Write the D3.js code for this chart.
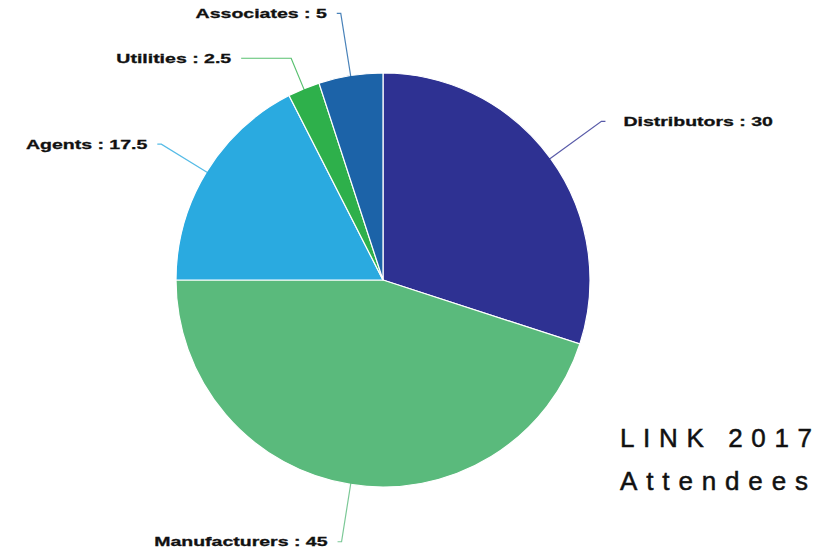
<!DOCTYPE html>
<html><head><meta charset="utf-8">
<script src="https://cdn.jsdelivr.net/npm/d3@7"></script>
<style>body{margin:0;background:#fff}svg{display:block}</style>
</head><body>
<svg id="c" width="814" height="550"></svg>
<script>
const categories = ["Distributors", "Manufacturers", "Agents", "Utilities", "Associates"];
const values = [30, 45, 17.5, 2.5, 5];
const colors = ["#2e3192", "#5aba7c", "#2aaae0", "#2eb04b", "#1c63a8"];
const titleLines = ["LINK 2017", "Attendees"];
// leader layout: elbow radius and horizontal tail per slice
const elbowR = [270, 265, 260, 240, 270];
const tails = [4, -4, -4, -50, -4];

const svg = d3.select("#c");
const cx = 383, cy = 280, r = 207;
const g = svg.append("g").attr("transform", `translate(${cx},${cy})`);
const data = categories.map((c, i) => ({cat: c, val: values[i], col: colors[i], i}));
const pie = d3.pie().value(d => d.val).sort(null);
const arcs = pie(data);
const arc = d3.arc().innerRadius(0).outerRadius(r);
g.selectAll("path.s").data(arcs).join("path").attr("class", "s")
  .attr("d", arc).attr("fill", d => d.data.col)
  .attr("stroke", "#fff").attr("stroke-width", 1.2);

const pt = (a, rad) => [rad * Math.sin(a), -rad * Math.cos(a)];
arcs.forEach(d => {
  const a = (d.startAngle + d.endAngle) / 2;
  const p0 = pt(a, r - 2), p1 = pt(a, r + 30), p2 = pt(a, elbowR[d.data.i]);
  const t = tails[d.data.i];
  const p3 = [p2[0] + t, p2[1]];
  const path = d3.path();
  path.moveTo(...p0);
  path.quadraticCurveTo(p1[0], p1[1], p2[0], p2[1]);
  path.lineTo(...p3);
  g.append("path").attr("d", path.toString()).attr("fill", "none")
    .attr("stroke", d.data.col).attr("stroke-width", 1.2).attr("opacity", 0.8);
  const right = t > 0;
  const txt = g.append("text").attr("x", p3[0] + (right ? 18 : -10)).attr("y", p3[1])
    .attr("dy", "0.35em").attr("text-anchor", right ? "start" : "end")
    .attr("font-family", "Liberation Sans, Arial, sans-serif").attr("font-weight", "bold")
    .attr("font-size", 13).attr("fill", "#111").attr("stroke", "#111").attr("stroke-width", 0.3)
    .text(`${d.data.cat} : ${d.data.val}`);
  const w = txt.node().getComputedTextLength();
  txt.attr("textLength", w * 1.5).attr("lengthAdjust", "spacingAndGlyphs");
});

const titleWidths = [192, 188];
svg.append("g").selectAll("text").data(titleLines).join("text")
  .attr("x", 620).attr("y", (d, i) => 447 + i * 43)
  .attr("font-family", "Liberation Sans, Arial, sans-serif").attr("font-size", 26)
  .attr("fill", "#111").attr("stroke", "#111").attr("stroke-width", 0.5)
  .attr("textLength", (d, i) => titleWidths[i]).attr("lengthAdjust", "spacing")
  .text(d => d);
</script>
</body></html>
